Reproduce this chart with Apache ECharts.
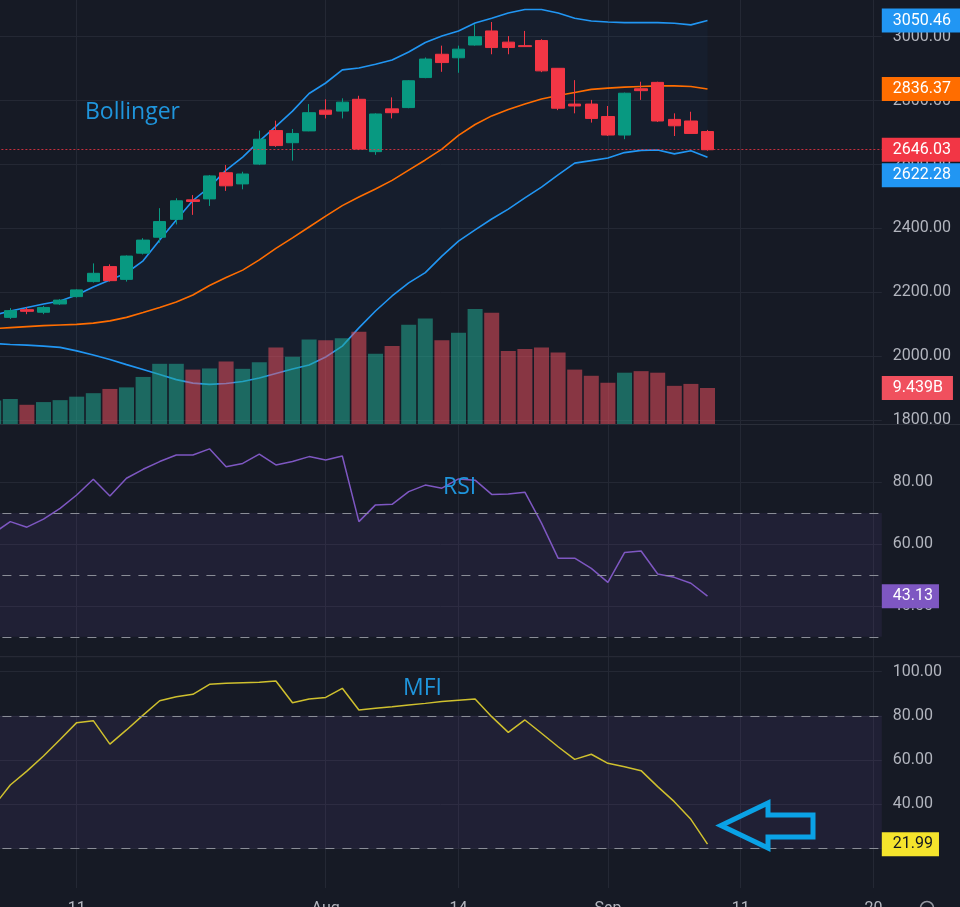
<!DOCTYPE html>
<html><head><meta charset="utf-8">
<script src="https://cdn.jsdelivr.net/npm/echarts@6/dist/echarts.min.js"></script>
<style>html,body{margin:0;padding:0;background:#161a25;}#c{width:960px;height:907px;}</style>
</head><body><div id="c"></div>
<script>
// ---------- data (first entry is the partially visible candle at the left edge) ----------
const openP  = [2108,2121,2145,2137,2163,2186,2233,2280,2240,2322,2372,2428,2489,2492,2574,2539,2601,2706,2668,2705,2770,2767,2804,2640,2774,2778,2872,2945,2934,2974,3018,2983,2972,2988,2901,2789,2789,2750,2692,2837,2857,2741,2736,2703];
const closeP = [2118,2142,2140,2152,2175,2207,2259,2236,2313,2363,2421,2486,2484,2564,2533,2570,2679,2659,2697,2762,2757,2795,2648,2758,2762,2862,2930,2919,2961,3000,2966,2966,2969,2893,2776,2783,2744,2692,2823,2831,2736,2721,2697,2646.03];
const lowP   = [2104,2116,2131,2131,2160,2183,2230,2233,2233,2318,2355,2412,2442,2470,2517,2522,2598,2655,2612,2704,2744,2744,2645,2630,2744,2776,2870,2890,2887,2972,2945,2945,2968,2889,2770,2760,2731,2689,2679,2802,2733,2689,2697,2643];
const highP  = [2122,2150,2152,2157,2178,2209,2290,2287,2315,2369,2463,2494,2504,2567,2598,2577,2706,2737,2711,2789,2804,2807,2815,2760,2810,2864,2935,2972,2972,3039,3046,3002,3018,2992,2902,2864,2802,2783,2825,2859,2859,2760,2765,2708];
const volumeB = [6.2,6.6,5.1,5.8,6.3,7.2,8.1,9.2,9.6,12.3,15.7,15.7,14.2,14.5,16.3,14.4,16.1,19.9,17.5,22.0,21.8,22.3,24.0,18.3,20.3,25.8,27.4,21.8,23.7,29.9,28.9,19.0,19.5,19.9,18.6,14.2,12.6,10.8,13.4,13.8,13.4,10.0,10.5,9.439];
const bbUpper = [2128,2141,2152,2163,2172,2191,2216,2238,2260,2298,2363,2426,2487,2529,2582,2623,2673,2719,2767,2822,2855,2896,2902,2914,2927,2952,2982,3002,3018,3043,3058,3074,3085,3085,3074,3058,3049,3046,3044,3044,3044,3042,3037,3050.46];
const bbBasis = [2086,2089,2092,2095,2097,2099,2103,2110,2121,2136,2152,2169,2191,2221,2246,2269,2301,2337,2370,2404,2438,2471,2498,2523,2550,2582,2614,2648,2691,2725,2752,2772,2789,2805,2816,2825,2835,2839,2842,2844,2846,2846,2844,2836.37];
const bbLower = [2039,2036,2034,2031,2027,2016,2003,1989,1973,1958,1942,1926,1915,1911,1914,1920,1931,1945,1959,1972,1997,2031,2088,2141,2188,2229,2261,2313,2360,2395,2429,2460,2495,2529,2567,2604,2612,2620,2637,2644,2645,2633,2643,2622.28];
const rsi = [63.5,67.2,65.4,68.0,71.5,75.8,80.9,75.5,81.2,84.1,86.6,88.7,88.7,90.7,84.9,86.0,89.0,85.5,86.6,88.2,87.1,88.4,67.2,72.6,72.8,76.9,79.0,78.0,81.0,80.6,76.0,76.1,76.7,66.7,55.4,55.4,52.1,47.6,57.2,57.7,50.3,49.2,47.3,43.13];
const mfi = [39.2,48.7,55.0,61.8,69.3,76.9,77.8,67.2,73.6,80.3,86.8,88.6,89.7,94.2,94.7,94.9,95.1,95.7,85.9,87.6,88.3,92.4,82.6,83.4,84.1,84.9,85.6,86.4,87.0,87.6,79.6,72.5,78.1,72.1,66.0,60.3,62.6,58.5,57.0,55.2,48.0,41.2,33.2,21.99];
const futureSlots = 10;
const xTickPos  = [5, 20, 28, 37, 45, 53];
const xTickText = ['11', 'Aug', '14', 'Sep', '11', '20'];
const priceTicks = [1800, 2000, 2200, 2400, 2600, 2800, 3000];
const rsiTicks = [40, 60, 80];
const mfiTicks = [20, 40, 60, 80, 100];
const rsiBands = [30, 50, 70];
const mfiBands = [20, 80];

// ---------- styling ----------
const FONT = 'Roboto';
const BG = '#161a25';
const GRID = '#242834';
const LBL = '#b2b5be';
const UP = '#089981', DOWN = '#f23645';
const VUP = 'rgba(34,171,148,0.55)', VDOWN = 'rgba(242,80,96,0.52)';
const DASH = '#8a8d97';

const n = openP.length;
const cats = [];
for (let i = 0; i < n + futureSlots; i++) cats.push(String(i));
const last = a => a[a.length - 1];

const GL = -14.6, GW = 896.4;
const grids = [
  {left: GL, width: GW, top: 0, height: 424.5, outerBoundsMode: 'none', containLabel: false},
  {left: GL, width: GW, top: 424.5, height: 232.2, outerBoundsMode: 'none', containLabel: false},
  {left: GL, width: GW, top: 656.7, height: 231.3, outerBoundsMode: 'none', containLabel: false}
];

function tag(bg, fg, text, offY, padR) {
  return {show: true, position: 'end', distance: 0, formatter: text, backgroundColor: bg, color: fg,
    fontSize: 16, fontFamily: FONT, lineHeight: 18, padding: [3, padR, 3, 11], offset: [0, offY || 0]};
}
function hiddenTagLine(val, bg, fg, text, offY, padR) {
  return {yAxis: val, lineStyle: {color: 'rgba(0,0,0,0)', width: 0}, label: tag(bg, fg, text, offY, padR)};
}

const yLabel = {color: LBL, fontSize: 16, fontFamily: FONT, margin: 11, align: 'left', formatter: v => v.toFixed(2)};

const option = {
  backgroundColor: BG,
  animation: false,
  textStyle: {fontFamily: FONT},
  grid: grids,
  xAxis: [
    ...[0, 1, 2].map(g => ({type: 'category', gridIndex: g, position: 'bottom', data: cats, boundaryGap: true, show: false})),
    ...[0, 1, 2].map(g => ({
      type: 'value', gridIndex: g, position: 'bottom', offset: 0, min: -0.5, max: cats.length - 0.5,
      axisLine: {show: false},
      axisTick: {show: false, customValues: xTickPos},
      axisLabel: g === 2 ? {show: true, customValues: xTickPos, color: LBL, fontSize: 16, fontFamily: FONT, margin: 13,
        formatter: v => xTickText[xTickPos.indexOf(Math.round(v))] || ''} : {show: false},
      splitLine: {show: true, lineStyle: {color: GRID, width: 1}}
    }))
  ],
  yAxis: [
    {type: 'value', gridIndex: 0, position: 'right', min: 1785.47, max: 3114.94,
      axisLine: {show: false}, axisTick: {show: false, customValues: priceTicks},
      axisLabel: Object.assign({customValues: priceTicks}, yLabel),
      splitLine: {show: true, lineStyle: {color: GRID}}},
    {type: 'value', gridIndex: 0, min: 0, max: 109.8, show: false, splitLine: {show: false}},
    {type: 'value', gridIndex: 1, position: 'right', min: 23.57, max: 98.57,
      axisLine: {show: false}, axisTick: {show: false, customValues: rsiTicks},
      axisLabel: Object.assign({customValues: rsiTicks}, yLabel),
      splitLine: {show: true, lineStyle: {color: GRID}}},
    {type: 'value', gridIndex: 2, position: 'right', min: 2.18, max: 106.69,
      axisLine: {show: false}, axisTick: {show: false, customValues: mfiTicks},
      axisLabel: Object.assign({customValues: mfiTicks}, yLabel),
      splitLine: {show: true, lineStyle: {color: GRID}}}
  ],
  series: [
    {name: 'bbBase', type: 'line', xAxisIndex: 0, yAxisIndex: 0, data: bbLower, stack: 'bb', symbol: 'none',
      lineStyle: {opacity: 0}, silent: true, z: 1},
    {name: 'bbFill', type: 'line', xAxisIndex: 0, yAxisIndex: 0, data: bbUpper.map((u, i) => u - bbLower[i]), stack: 'bb',
      symbol: 'none', lineStyle: {opacity: 0}, areaStyle: {color: 'rgba(33,150,243,0.06)'}, silent: true, z: 1},
    {name: 'Upper', type: 'line', xAxisIndex: 0, yAxisIndex: 0, data: bbUpper, symbol: 'none', z: 2,
      lineStyle: {color: '#2196f3', width: 1.6},
      markLine: {silent: true, symbol: ['none', 'none'], data: [hiddenTagLine(last(bbUpper), '#2196f3', '#ffffff', last(bbUpper).toFixed(2), 0, 12)]}},
    {name: 'Lower', type: 'line', xAxisIndex: 0, yAxisIndex: 0, data: bbLower, symbol: 'none', z: 2,
      lineStyle: {color: '#2196f3', width: 1.6},
      markLine: {silent: true, symbol: ['none', 'none'], data: [hiddenTagLine(last(bbLower), '#2196f3', '#ffffff', last(bbLower).toFixed(2), 18, 12)]}},
    {name: 'Basis', type: 'line', xAxisIndex: 0, yAxisIndex: 0, data: bbBasis, symbol: 'none', z: 2,
      lineStyle: {color: '#ff6d00', width: 1.6},
      markLine: {silent: true, symbol: ['none', 'none'], data: [hiddenTagLine(last(bbBasis), '#ff6d00', '#ffffff', last(bbBasis).toFixed(2), 0, 12)]}},
    {name: 'Volume', type: 'bar', xAxisIndex: 0, yAxisIndex: 1, data: volumeB, barWidth: 15, z: 3,
      itemStyle: {color: p => (closeP[p.dataIndex] >= openP[p.dataIndex] ? VUP : VDOWN)},
      markLine: {silent: true, symbol: ['none', 'none'], data: [hiddenTagLine(last(volumeB), '#f0505e', '#ffffff', last(volumeB).toFixed(3) + 'B', 0, 10)]}},
    {name: 'Price', type: 'candlestick', xAxisIndex: 0, yAxisIndex: 0, barWidth: 13, z: 4,
      data: openP.map((o, i) => [o, closeP[i], lowP[i], highP[i]]),
      itemStyle: {color: UP, color0: DOWN, borderColor: UP, borderColor0: DOWN, borderWidth: 1},
      markLine: {silent: true, symbol: ['none', 'none'], data: [
        {yAxis: last(closeP), lineStyle: {color: 'rgba(242,54,69,0.8)', type: [2, 2], width: 1},
          label: tag(DOWN, '#ffffff', last(closeP).toFixed(2), 0, 12)}]}},
    {name: 'RSI', type: 'line', xAxisIndex: 1, yAxisIndex: 2, data: rsi, symbol: 'none', z: 3,
      lineStyle: {color: '#7e57c2', width: 1.5},
      markArea: {silent: true, itemStyle: {color: 'rgba(126,87,194,0.1)'}, data: [[{yAxis: rsiBands[0]}, {yAxis: rsiBands[2]}]]},
      markLine: {silent: true, symbol: ['none', 'none'], data: [
        ...rsiBands.map(v => ({yAxis: v, lineStyle: {color: DASH, type: [9, 8], width: 1.2}, label: {show: false}})),
        hiddenTagLine(last(rsi), '#7e57c2', '#ffffff', last(rsi).toFixed(2), 0, 6)]}},
    {name: 'MFI', type: 'line', xAxisIndex: 2, yAxisIndex: 3, data: mfi, symbol: 'none', z: 3,
      lineStyle: {color: '#cfc02e', width: 1.5},
      markArea: {silent: true, itemStyle: {color: 'rgba(126,87,194,0.1)'}, data: [[{yAxis: mfiBands[0]}, {yAxis: mfiBands[1]}]]},
      markLine: {silent: true, symbol: ['none', 'none'], data: [
        ...mfiBands.map(v => ({yAxis: v, lineStyle: {color: DASH, type: [9, 8], width: 1.2}, label: {show: false}})),
        hiddenTagLine(last(mfi), '#f5e42c', '#131722', last(mfi).toFixed(2), 0, 6)]}}
  ],
  graphic: [
    {type: 'line', z: 50, silent: true, shape: {x1: 0, y1: 424.5, x2: 960, y2: 424.5}, style: {stroke: '#2a2e39', lineWidth: 1}},
    {type: 'line', z: 50, silent: true, shape: {x1: 0, y1: 656.7, x2: 960, y2: 656.7}, style: {stroke: '#2a2e39', lineWidth: 1}},
    {type: 'text', z: 60, silent: true, x: 85, y: 112, style: {text: 'Bollinger', fill: '#1f95dc', font: '23px "Open Sans"', verticalAlign: 'middle'}},
    {type: 'text', z: 60, silent: true, x: 443, y: 487, style: {text: 'RSI', fill: '#1f95dc', font: '23px "Open Sans"', verticalAlign: 'middle'}},
    {type: 'text', z: 60, silent: true, x: 403, y: 688, style: {text: 'MFI', fill: '#1f95dc', font: '23px "Open Sans"', verticalAlign: 'middle'}},
    {type: 'polygon', z: 60, silent: true,
      shape: {points: [[721, 825.5], [768, 803], [768, 815], [813, 815], [813, 837], [768, 837], [768, 848]]},
      style: {fill: 'none', stroke: '#0aa2e6', lineWidth: 5, lineJoin: 'miter'}},
    {type: 'circle', z: 60, silent: true, shape: {cx: 927, cy: 908, r: 6.5}, style: {fill: 'none', stroke: '#9598a1', lineWidth: 1.5}}
  ]
};

const chart = echarts.init(document.getElementById('c'), null, {renderer: 'canvas'});
chart.setOption(option);
</script>
</body></html>
